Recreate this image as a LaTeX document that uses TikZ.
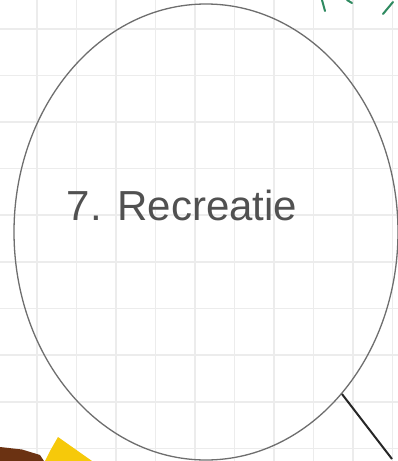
\documentclass[tikz,border=0pt]{standalone}
\usepackage{fontspec}
\setmainfont{Liberation Sans}
\usepackage{xcolor}
\usetikzlibrary{shapes.geometric}

\definecolor{gridgrey}{HTML}{ECECEC}
\definecolor{penGrey}{HTML}{6E6E6E}
\definecolor{inkGreen}{HTML}{2E8A60}
\definecolor{inkDark}{HTML}{262626}
\definecolor{markBrown}{HTML}{6B3212}
\definecolor{markYellow}{HTML}{F6C90A}

\tikzset{
  bubble/.style={draw=penGrey,line width=1.3pt,ellipse,minimum width=384pt,minimum height=456pt,inner sep=0pt},
  scribble/.style={text=inkDark!80,font=\fontsize{42}{46}\selectfont}
}

\begin{document}
\begin{tikzpicture}[x=1pt,y=-1pt]
\useasboundingbox (0,0) rectangle (398,461);
\fill[white] (0,0) rectangle (398,461);
% grid paper
\foreach \gx in {37,76.5,116,155.5,195,234.5,274,313.5,353,392.5}
  \draw[gridgrey,line width=1.5pt] (\gx,0) -- (\gx,461);
\foreach \gy in {29,75.5,122,168.5,215,262,308.5,355,402,448.5}
  \draw[gridgrey,line width=1.5pt] (0,\gy) -- (398,\gy);
% pieces of the neighbouring sketches
\fill[markBrown] (0,447) -- (22,449.5) -- (40,455) -- (44,461) -- (0,461) -- cycle;
\fill[markYellow] (58,437) -- (92,461) -- (45,461) -- (50,451) -- cycle;
\draw[inkGreen,line width=2pt,line cap=round] (322,0) -- (325,11);
\draw[inkGreen,line width=2pt,line cap=round] (347,0) -- (352,3);
\draw[inkGreen,line width=2pt,line cap=round] (393,2) -- (383,14);
% the bubble
\node[bubble] (recreatie) at (206,232) {};
\node[scribble] (title) at (182,205) {7. Recreatie};
\coordinate (tail) at (392,459);
\draw[inkDark,line width=2pt] (recreatie.-50.7) -- (tail);
\end{tikzpicture}
\end{document}
